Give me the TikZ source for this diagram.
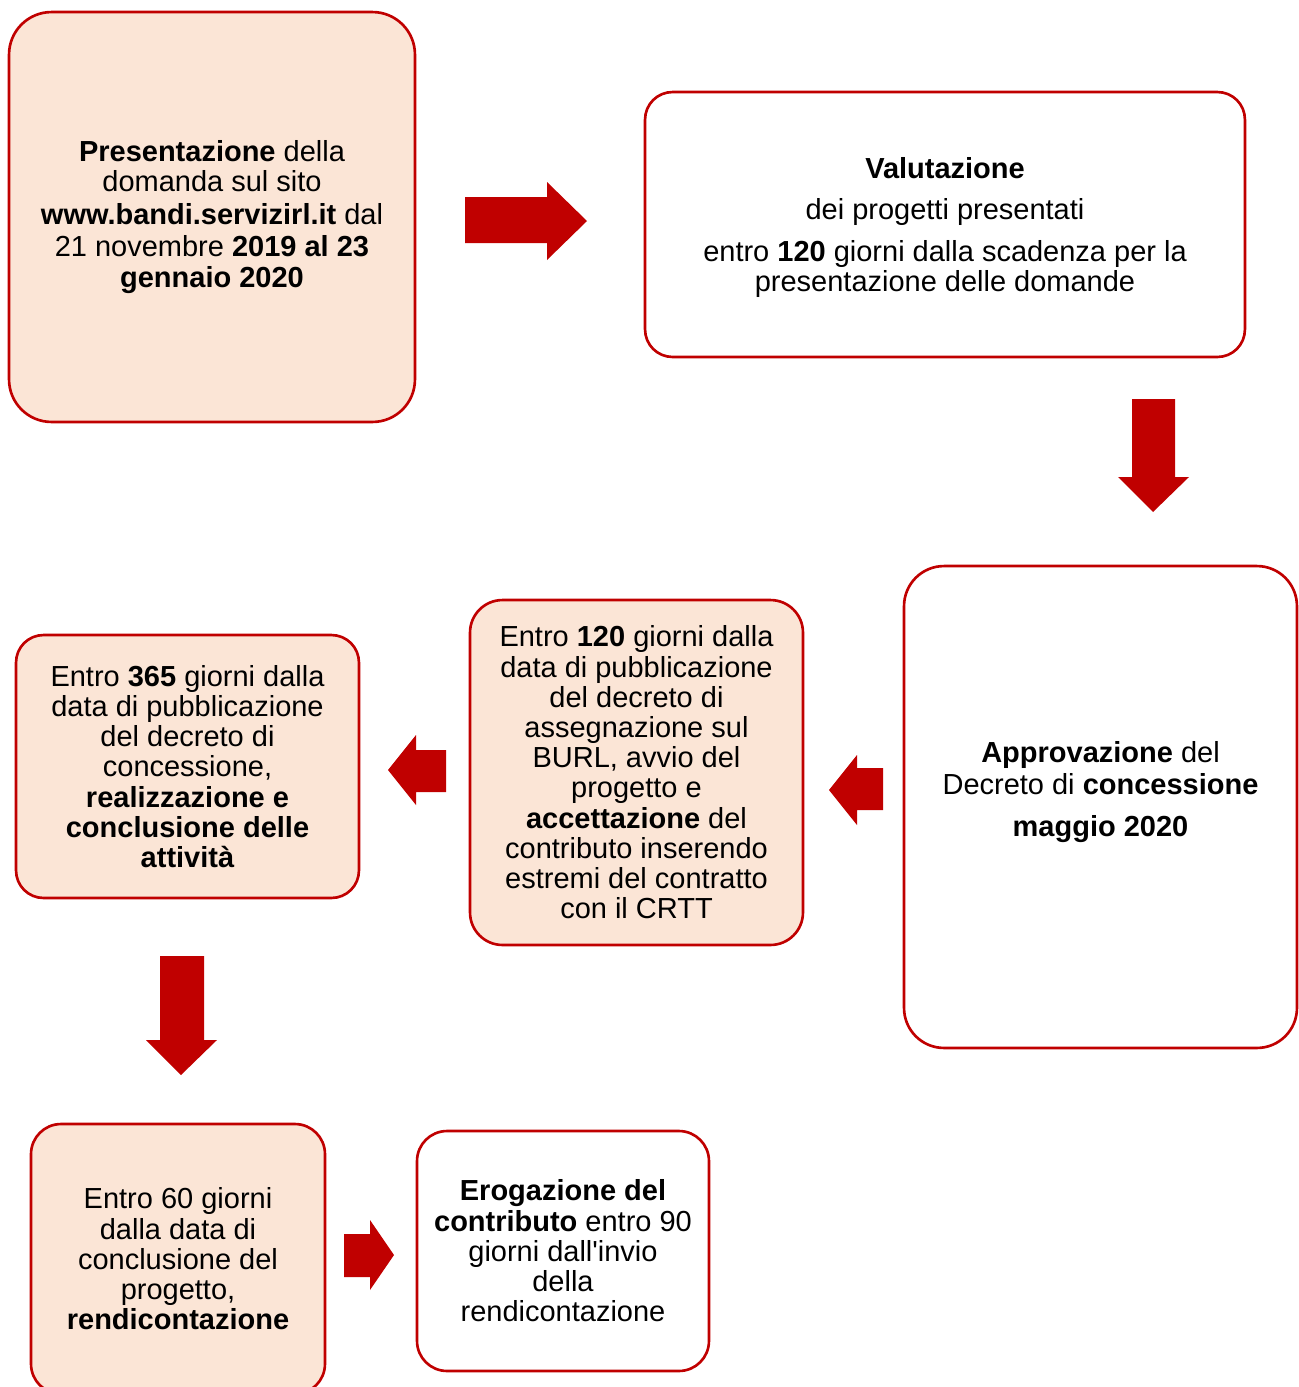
\documentclass[tikz,border=0pt]{standalone}
\usepackage{fontspec}
\setmainfont{Liberation Sans}
\definecolor{darkred}{HTML}{C00000}
\definecolor{peach}{HTML}{FBE5D6}
\tikzset{
  box/.style={draw=darkred, line width=1.5pt, align=center, inner sep=0pt,
    font=\fontsize{16.5}{17.2}\selectfont},
  peachbox/.style={box, fill=peach},
  whitebox/.style={box, fill=white},
  blockarrow/.style={fill=darkred}
}
\begin{document}
\begin{tikzpicture}[x=0.02cm, y=-0.02cm]
  \useasboundingbox (0,0) rectangle (1299,1387);
  \clip (0,0) rectangle (1299,1387);
  % boxes
  \node[peachbox, minimum width=8.12cm, minimum height=8.2cm, rounded corners=0.85cm] (pres) at (212,217)
    {\textbf{Presentazione} della\\domanda sul sito\\[1.7pt]\textbf{www.bandi.servizirl.it} dal\\[1.1pt]21 novembre \textbf{2019 al 23}\\[0.6pt]\textbf{gennaio 2020}};
  \node[whitebox, minimum width=12cm, minimum height=5.3cm, rounded corners=0.55cm] (valut) at (945,224.5) {};
  \node[box, draw=none] (valuttxt) at (945,227.5)
    {\textbf{Valutazione}\\[6.6pt]dei progetti presentati\\[6.6pt]entro \textbf{120} giorni dalla scadenza per la\\presentazione delle domande};
  \node[whitebox, minimum width=7.86cm, minimum height=9.64cm, rounded corners=0.8cm] (appr) at (1100.5,807) {};
  \node[box, draw=none] (apprtxt) at (1100.5,792)
    {\textbf{Approvazione} del\\[1pt]Decreto di \textbf{concessione}\\[6.6pt]\textbf{maggio 2020}};
  \node[peachbox, minimum width=6.66cm, minimum height=6.9cm, rounded corners=0.65cm] (accet) at (636.5,772.5)
    {Entro \textbf{120} giorni dalla\\data di pubblicazione\\del decreto di\\assegnazione sul\\BURL, avvio del\\progetto e\\\textbf{accettazione} del\\contributo inserendo\\estremi del contratto\\con il CRTT};
  \node[peachbox, minimum width=6.86cm, minimum height=5.26cm, rounded corners=0.55cm] (real) at (187.5,766.5)
    {Entro \textbf{365} giorni dalla\\data di pubblicazione\\del decreto di\\concessione,\\\textbf{realizzazione e}\\\textbf{conclusione delle}\\\textbf{attività}};
  \node[peachbox, minimum width=5.88cm, minimum height=5.4cm, rounded corners=0.6cm] (rend) at (178,1259)
    {Entro 60 giorni\\dalla data di\\conclusione del\\progetto,\\\textbf{rendicontazione}};
  \node[whitebox, minimum width=5.84cm, minimum height=4.8cm, rounded corners=0.6cm] (erog) at (563,1251)
    {\textbf{Erogazione del}\\\textbf{contributo} entro 90\\giorni dall\textquotesingle invio\\della\\rendicontazione};
  % block arrows
  \begin{scope}[blockarrow]
    \fill (465,197) -- (547,197) -- (547,182) -- (587,221) -- (547,260) -- (547,243) -- (465,243) -- cycle;
    \fill (1132,399) -- (1175,399) -- (1175,477) -- (1189,477) -- (1153,512) -- (1118,477) -- (1132,477) -- cycle;
    \fill (883,768) -- (857,768) -- (857,755) -- (829,790) -- (857,825) -- (857,810) -- (883,810) -- cycle;
    \fill (446,750) -- (416,750) -- (416,735) -- (388,770) -- (416,805) -- (416,792) -- (446,792) -- cycle;
    \fill (160,956) -- (204,956) -- (204,1040) -- (217,1040) -- (181,1075) -- (146,1040) -- (160,1040) -- cycle;
    \fill (344,1234) -- (370,1234) -- (370,1220) -- (394,1255) -- (370,1290) -- (370,1277) -- (344,1277) -- cycle;
  \end{scope}
\end{tikzpicture}
\end{document}
